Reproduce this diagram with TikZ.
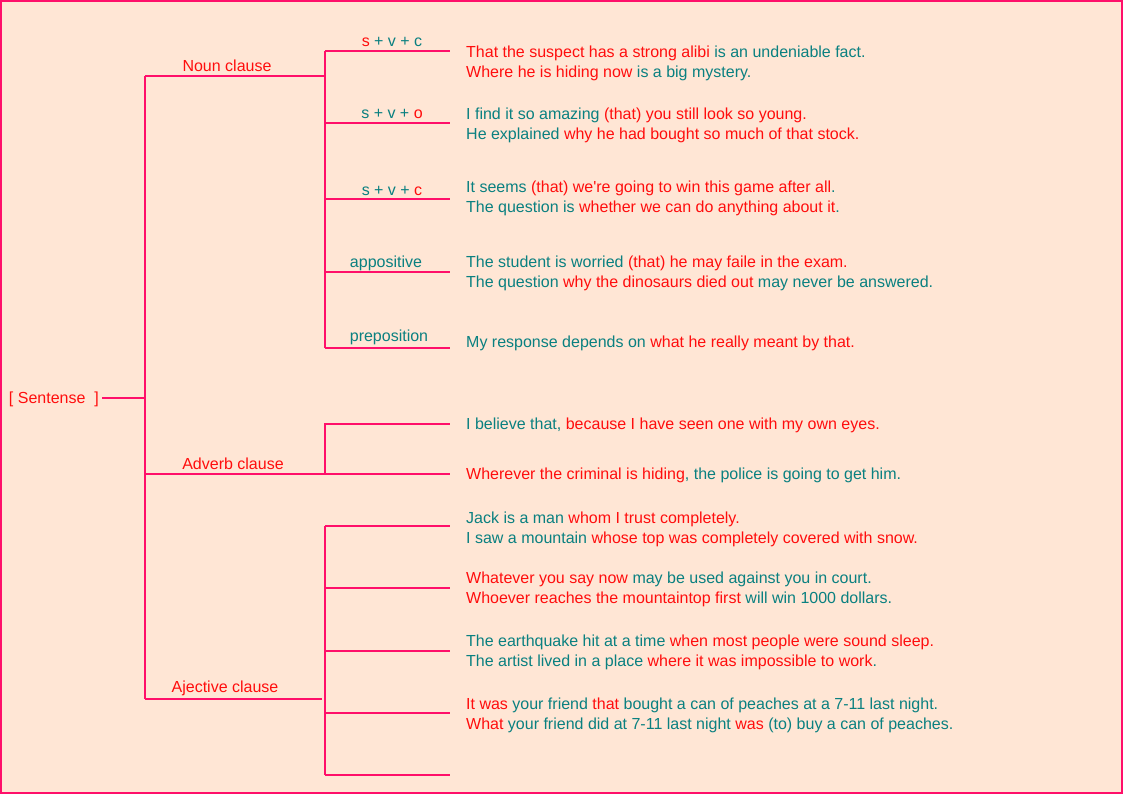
\documentclass[tikz,border=0pt]{standalone}
\usepackage{fontspec}
\setmainfont{Liberation Sans}[Ligatures=TeXOff]
\definecolor{bg}{HTML}{FFE6D5}
\definecolor{ln}{HTML}{FF0F6A}
\definecolor{rd}{HTML}{FF0D0D}
\definecolor{tl}{HTML}{0A8080}
\newcommand{\rtx}[1]{\textcolor{rd}{#1}}
\newcommand{\ttx}[1]{\textcolor{tl}{#1}}
\begin{document}
\begin{tikzpicture}[x=1pt,y=-1pt,
  conn/.style={draw=ln,line width=1.8pt},
  lbl/.style={font=\fontsize{16}{20}\selectfont, inner sep=0pt},
  ex/.style={font=\fontsize{16}{20}\selectfont, anchor=west, align=left, inner sep=0pt, text=tl}]
\fill[bg] (0,0) rectangle (1123,794);
\draw[ln, line width=2pt] (1,1) rectangle (1122,793);
\useasboundingbox (0,0) rectangle (1123,794);

% root
\node[lbl, text=rd, anchor=east] (sent) at (99,399.5) {[ Sentense\ \ ]};
\coordinate (mroot) at (145,398);
\coordinate (mtop) at (145,76);
\coordinate (mbot) at (145,699);
\draw[conn] (102,398) -- (mroot);
\draw[conn] (mtop) -- (mbot);

% noun clause
\coordinate (nj) at (325,76);
\coordinate (nt) at (325,51);
\coordinate (nb) at (325,348);
\draw[conn] (mtop) -- (nj);
\draw[conn] (nt) -- (nb);
\node[lbl, text=rd] (noun) at (227,65.5) {Noun clause};
\foreach \y/\n in {51/n1,123/n2,199/n3,272/n4,348/n5}{
  \coordinate (\n s) at (325,\y);
  \coordinate (\n e) at (450,\y);
  \draw[conn] (\n s) -- (\n e);
}
\node[lbl] (l1) at (392,41.5) {\rtx{s}\ttx{\ + v + c}};
\node[lbl] (l2) at (392,113.5) {\ttx{s + v +\ }\rtx{o}};
\node[lbl] (l3) at (392,190.5) {\ttx{s + v +\ }\rtx{c}};
\node[lbl, text=tl] (l4) at (386,263.5) {appositive};
\node[lbl, text=tl] (l5) at (389,337.5) {preposition};

\node[ex] (b1) at (466,63) {\rtx{That the suspect has a strong alibi} is an undeniable fact.\\\rtx{Where he is hiding now} is a big mystery.};
\node[ex] (b2) at (466,125) {I find it so amazing \rtx{(that) you still look so young.}\\He explained \rtx{why he had bought so much of that stock.}};
\node[ex] (b3) at (466,198) {It seems \rtx{(that) we're going to win this game after all}.\\The question is \rtx{whether we can do anything about it}.};
\node[ex] (b4) at (466,273) {The student is worried \rtx{(that) he may faile in the exam.}\\The question \rtx{why the dinosaurs died out} may never be answered.};
\node[ex] (b5) at (466,343) {My response depends on \rtx{what he really meant by that.}};

% adverb clause
\coordinate (aj) at (325,474);
\coordinate (at) at (325,424);
\coordinate (ae) at (450,474);
\coordinate (ate) at (450,424);
\draw[conn] (145,474) -- (ae);
\draw[conn] (aj) -- (at) -- (ate);
\node[lbl, text=rd] (adv) at (233,463.5) {Adverb clause};
\node[ex] (a1) at (466,425.5) {I believe that, \rtx{because I have seen one with my own eyes.}};
\node[ex] (a2) at (466,475.5) {\rtx{Wherever the criminal is hiding}, the police is going to get him.};

% adjective clause
\coordinate (jj) at (322,699);
\coordinate (jt) at (325,526);
\coordinate (jb) at (325,775);
\draw[conn] (mbot) -- (jj);
\draw[conn] (jt) -- (jb);
\node[lbl, text=rd] (adj) at (225,688.5) {Ajective clause};
\foreach \y/\n in {526/j1,588/j2,651/j3,713/j4,775/j5}{
  \coordinate (\n s) at (325,\y);
  \coordinate (\n e) at (450,\y);
  \draw[conn] (\n s) -- (\n e);
}
\node[ex] (c1) at (466,529) {Jack is a man \rtx{whom I trust completely.}\\I saw a mountain \rtx{whose top was completely covered with snow.}};
\node[ex] (c2) at (466,589) {\rtx{Whatever you say now} may be used against you in court.\\\rtx{Whoever reaches the mountaintop first} will win 1000 dollars.};
\node[ex] (c3) at (466,652) {The earthquake hit at a time \rtx{when most people were sound sleep.}\\The artist lived in a place \rtx{where it was impossible to work}.};
\node[ex] (c4) at (466,715) {\rtx{It was} your friend \rtx{that} bought a can of peaches at a 7-11 last night.\\\rtx{What} your friend did at 7-11 last night \rtx{was} (to) buy a can of peaches.};
\end{tikzpicture}
\end{document}
